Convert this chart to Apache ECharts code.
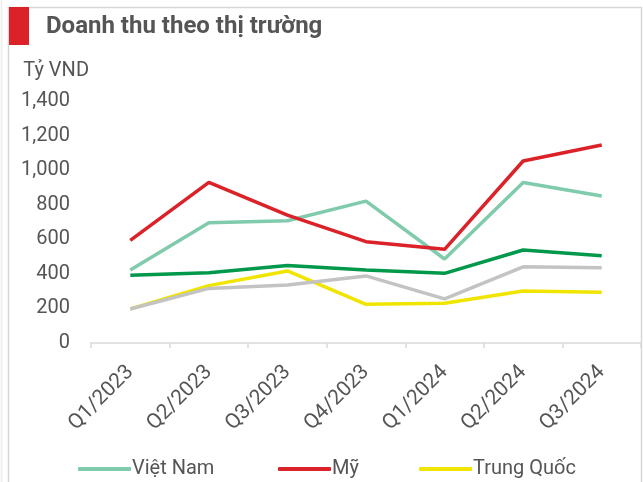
<!DOCTYPE html>
<html>
<head>
<meta charset="utf-8">
<script src="https://cdn.jsdelivr.net/npm/echarts@6/dist/echarts.min.js"></script>
<style>
  html, body { margin: 0; padding: 0; background: #fff; }
  #chart { width: 643px; height: 482px; }
</style>
</head>
<body>
<div id="chart"></div>
<script>
// dữ liệu doanh thu theo thị trường (tỷ VND)
const categories = ['Q1/2023', 'Q2/2023', 'Q3/2023', 'Q4/2023', 'Q1/2024', 'Q2/2024', 'Q3/2024']
const vietNam = [422, 696, 707, 821, 486, 929, 850]
const my = [594, 929, 740, 586, 542, 1053, 1145]
const trungQuoc = [197, 332, 417, 224, 230, 301, 293]
const thiTruong4 = [392, 407, 449, 422, 403, 538, 505]
const thiTruong5 = [197, 316, 336, 388, 255, 441, 436]
const yTicks = [0, 200, 400, 600, 800, 1000, 1200, 1400]

const seriesNames = ['Việt Nam', 'Mỹ', 'Trung Quốc', 'Thị trường khác 1', 'Thị trường khác 2']
const seriesData = [vietNam, my, trungQuoc, thiTruong4, thiTruong5]
const colors = ['#80cbac', '#dc2229', '#f0e500', '#00984a', '#c3c3c3']

const font = 'Roboto, "Noto Sans", sans-serif'
const chart = echarts.init(document.getElementById('chart'))

// mỗi mục chú giải đặt riêng một vị trí
const legendLeft = [73, 273, 414]
const legends = legendLeft.map((left, i) => ({
  data: [seriesNames[i]],
  icon: 'roundRect',
  left,
  top: 454,
  itemWidth: 53,
  itemHeight: 4,
  textStyle: {color: '#555555', fontSize: 20, fontFamily: font, padding: [0, 0, 0, -4]}
}))

const option = {
  animation: false,
  textStyle: {fontFamily: font},
  graphic: [
    // khung
    {type: 'line', shape: {x1: 1.5, y1: 0, x2: 1.5, y2: 482}, style: {stroke: '#ececec', lineWidth: 1.5}},
    {type: 'line', shape: {x1: 8.5, y1: 7, x2: 8.5, y2: 482}, style: {stroke: '#d6d6d6', lineWidth: 1.5}},
    {type: 'line', shape: {x1: 8, y1: 7.5, x2: 641, y2: 7.5}, style: {stroke: '#d6d6d6', lineWidth: 1.5}},
    {type: 'line', shape: {x1: 641.5, y1: 7, x2: 641.5, y2: 482}, style: {stroke: '#d6d6d6', lineWidth: 1.5}},
    {type: 'rect', shape: {x: 9, y: 7, width: 20, height: 38}, style: {fill: '#dc2229'}},
    {
      type: 'text', left: 46, top: 15,
      style: {text: 'Doanh thu theo thị trường', fill: '#555555', font: 'bold 24px ' + font}
    }
  ],
  grid: {left: 91, right: 2, top: 101, bottom: 139, containLabel: false},
  legend: legends,
  xAxis: {
    type: 'category',
    data: categories,
    boundaryGap: true,
    axisLine: {lineStyle: {color: '#d9d9d9', width: 1.5}},
    axisTick: {show: true, length: 5, lineStyle: {color: '#d9d9d9', width: 1.5}},
    axisLabel: {rotate: 45, color: '#555555', fontSize: 21, margin: 26, interval: 0}
  },
  yAxis: {
    type: 'value',
    min: 0,
    max: yTicks[yTicks.length - 1],
    interval: yTicks[1] - yTicks[0],
    name: 'Tỷ VND',
    nameLocation: 'end',
    nameGap: 20,
    nameTextStyle: {color: '#555555', fontSize: 20, align: 'right', padding: [0, 2, 0, 0]},
    axisLine: {show: false},
    axisTick: {show: false},
    splitLine: {show: false},
    axisLabel: {
      color: '#555555',
      fontSize: 20,
      margin: 21,
      lineHeight: 20,
      padding: [5, 0, 0, 0],
      formatter: v => v.toLocaleString('en-US')
    }
  },
  series: seriesNames.map((name, i) => ({
    name,
    type: 'line',
    data: seriesData[i],
    symbol: 'none',
    color: colors[i],
    lineStyle: {width: 3.5, color: colors[i]}
  }))
}

chart.setOption(option)
</script>
</body>
</html>
